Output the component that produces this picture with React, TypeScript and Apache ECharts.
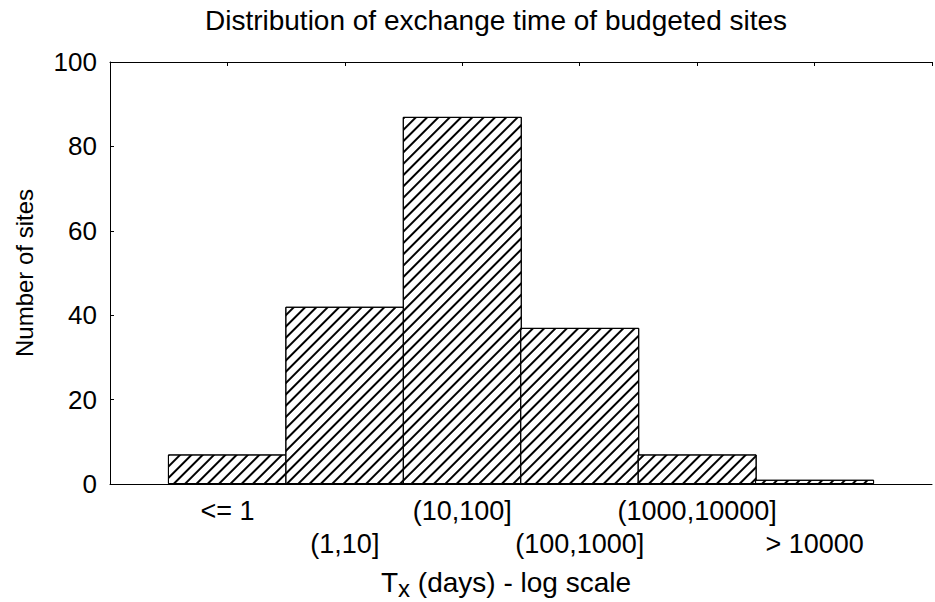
import React, { useEffect, useRef } from "react";
import * as echarts from "echarts";

const categories = ["<= 1", "(1,10]", "(10,100]", "(100,1000]", "(1000,10000]", "> 10000"];
const counts = [7, 42, 87, 37, 7, 1];
const yTicks = [0, 20, 40, 60, 80, 100];

const FONT = "'Liberation Sans', Arial, Helvetica, sans-serif";

export default function App() {
  const ref = useRef<HTMLDivElement>(null);
  useEffect(() => {
    if (!ref.current) return;
    const chart = echarts.init(ref.current, null, { renderer: "svg" });
    const data = counts.map((v, i) => [i + 1, v]);
    chart.setOption({
      animation: false,
      backgroundColor: "#fff",
      textStyle: { fontFamily: FONT, color: "#000" },
      grid: { left: 110, right: -10, top: 62, bottom: 118 },
      xAxis: [
        {
          type: "value",
          position: "bottom",
          min: 0,
          max: categories.length + 1,
          interval: 1,
          splitLine: { show: false },
          axisLine: { show: true, lineStyle: { color: "#000", width: 1 } },
          axisTick: { show: false },
          axisLabel: {
            margin: 10,
            fontSize: 27,
            lineHeight: 33,
            color: "#000",
            fontFamily: FONT,
            formatter: (v: number) => {
              const i = Math.round(v) - 1;
              if (i < 0 || i >= categories.length) return "";
              return i % 2 === 0 ? categories[i] : "\n" + categories[i];
            },
          },
        },
        {
          type: "value",
          position: "top",
          min: 0,
          max: categories.length + 1,
          interval: 1,
          splitLine: { show: false },
          axisLine: { show: true, lineStyle: { color: "#000", width: 1 } },
          axisTick: { show: true, inside: true, length: 4, lineStyle: { color: "#000" } },
          axisLabel: { show: false },
        },
      ],
      yAxis: {
        type: "value",
        min: yTicks[0],
        max: yTicks[yTicks.length - 1],
        interval: 20,
        splitLine: { show: false },
        axisLine: { show: true, lineStyle: { color: "#000", width: 1 } },
        axisTick: { show: true, inside: true, length: 4, lineStyle: { color: "#000" } },
        axisLabel: { fontSize: 26, color: "#000", margin: 13, fontFamily: FONT },
      },
      graphic: [
        {
          type: "text",
          x: 496,
          y: 20,
          style: {
            text: "Distribution of exchange time of budgeted sites",
            fontSize: 28,
            fontFamily: FONT,
            fill: "#000",
            align: "center",
            verticalAlign: "middle",
          },
        },
        {
          type: "text",
          x: 24,
          y: 273,
          rotation: Math.PI / 2,
          style: {
            text: "Number of sites",
            fontSize: 24,
            fontFamily: FONT,
            fill: "#000",
            align: "center",
            verticalAlign: "middle",
          },
        },
        {
          type: "text",
          x: 506,
          y: 582,
          style: {
            text: "T{sub|x} (days) - log scale",
            fontSize: 28,
            fontFamily: FONT,
            fill: "#000",
            align: "center",
            verticalAlign: "middle",
            rich: {
              sub: { fontSize: 24, fontFamily: FONT, fill: "#000", padding: [12, 0, 0, 0] },
            },
          },
        },
      ],
      series: [
        {
          type: "bar",
          xAxisIndex: 0,
          data,
          barWidth: 119,
          itemStyle: {
            color: "#fff",
            borderColor: "#000",
            borderWidth: 1,
            decal: {
              symbol: "rect",
              symbolSize: 1,
              dashArrayX: [1, 0],
              dashArrayY: [1.8, 5.2],
              rotation: -Math.PI / 4,
              color: "#000",
              backgroundColor: "#fff",
            },
          },
        },
      ],
    });
    return () => chart.dispose();
  }, []);
  return (
    <div
      ref={ref}
      style={{ position: "absolute", left: 0, top: 0, width: 935, height: 602 }}
    />
  );
}
